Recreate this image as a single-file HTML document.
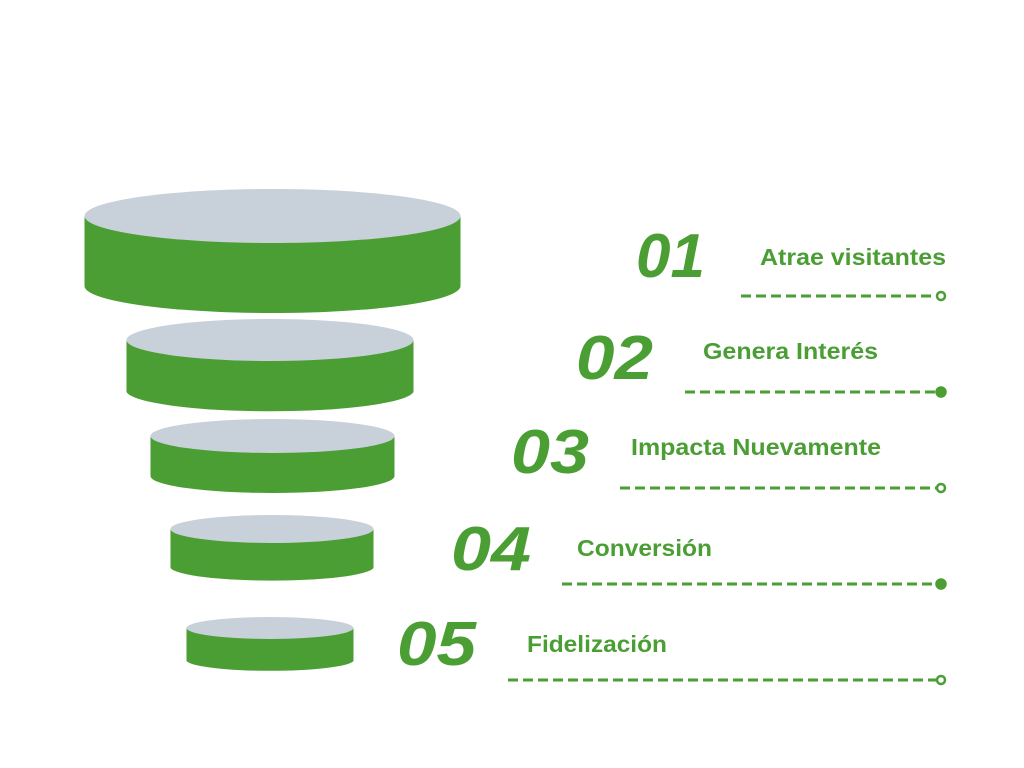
<!DOCTYPE html>
<html><head><meta charset="utf-8"><style>
body{margin:0;background:#fff;}
svg{display:block;}
text{font-family:"Liberation Sans",sans-serif;font-weight:bold;fill:#4a9e33;}
</style></head><body>
<svg width="1024" height="768" viewBox="0 0 1024 768">
<g fill="#4a9e33">
<path d="M84.5 216 V286 A188 27 0 0 0 460.5 286 V216 Z"/>
<path d="M126.5 340 V392 A144 21 0 0 0 413.5 392 V340 Z"/>
<path d="M150.5 436 V476 A122 17 0 0 0 394.5 476 V436 Z"/>
<path d="M170.5 529 V568 A102 14 0 0 0 373.5 568 V529 Z"/>
<path d="M186.5 628 V661 A84 11 0 0 0 353.5 661 V628 Z"/>
</g>
<g fill="#c8d0da">
<ellipse cx="272.5" cy="216" rx="188" ry="27"/>
<ellipse cx="270" cy="340" rx="143.5" ry="21"/>
<ellipse cx="272.5" cy="436" rx="122" ry="17"/>
<ellipse cx="272" cy="529" rx="101.5" ry="14"/>
<ellipse cx="270" cy="628" rx="83.5" ry="11"/>
</g>
<g font-size="62" font-style="italic" lengthAdjust="spacingAndGlyphs">
<text x="636" y="277" textLength="69" lengthAdjust="spacingAndGlyphs">01</text>
<text x="576" y="379" textLength="77" lengthAdjust="spacingAndGlyphs">02</text>
<text x="511" y="473" textLength="78" lengthAdjust="spacingAndGlyphs">03</text>
<text x="451" y="570" textLength="80" lengthAdjust="spacingAndGlyphs">04</text>
<text x="397" y="665" textLength="79" lengthAdjust="spacingAndGlyphs">05</text>
</g>
<g font-size="23">
<text x="760" y="265" textLength="186" lengthAdjust="spacingAndGlyphs">Atrae visitantes</text>
<text x="703" y="359" textLength="175" lengthAdjust="spacingAndGlyphs">Genera Interés</text>
<text x="631" y="455" textLength="250" lengthAdjust="spacingAndGlyphs">Impacta Nuevamente</text>
<text x="577" y="556" textLength="135" lengthAdjust="spacingAndGlyphs">Conversión</text>
<text x="527" y="652" textLength="140" lengthAdjust="spacingAndGlyphs">Fidelización</text>
</g>
<g stroke="#4a9e33" stroke-width="3" stroke-dasharray="10 5">
<line x1="741" y1="296" x2="936" y2="296"/>
<line x1="685" y1="392" x2="936" y2="392"/>
<line x1="620" y1="488" x2="936" y2="488"/>
<line x1="562" y1="584" x2="936" y2="584"/>
<line x1="508" y1="680" x2="936" y2="680"/>
</g>
<g stroke="#4a9e33" stroke-width="2.5">
<circle cx="941" cy="296" r="4" fill="#fff"/>
<circle cx="941" cy="392" r="4.5" fill="#4a9e33"/>
<circle cx="941" cy="488" r="4" fill="#fff"/>
<circle cx="941" cy="584" r="4.5" fill="#4a9e33"/>
<circle cx="941" cy="680" r="4" fill="#fff"/>
</g>
</svg>
</body></html>
